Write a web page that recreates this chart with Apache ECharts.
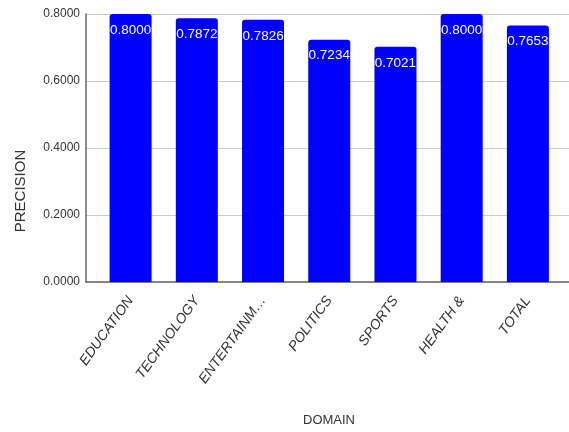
<!DOCTYPE html>
<html><head><meta charset="utf-8">
<script src="https://cdn.jsdelivr.net/npm/echarts@6/dist/echarts.min.js"></script>
<style>html,body{margin:0;padding:0;background:#fff}#c{width:569px;height:432px}</style>
</head><body><div id="c"></div>
<script>
const categories = ['EDUCATION','TECHNOLOGY','ENTERTAINM…','POLITICS','SPORTS','HEALTH &','TOTAL'];
const precision = [0.8000, 0.7872, 0.7826, 0.7234, 0.7021, 0.8000, 0.7653];
const yTicks = [0, 0.2, 0.4, 0.6, 0.8];
const yAxisTitle = 'PRECISION';
const xAxisTitle = 'DOMAIN';

const FONT = '"Liberation Sans", Arial, sans-serif';
const chart = echarts.init(document.getElementById('c'));
chart.setOption({
  animation: false,
  textStyle: {fontFamily: FONT},
  grid: [
    {left: 86, right: 0, top: 14, bottom: 150},
    {left: 97.5, right: 8, top: 14, bottom: 150}
  ],
  xAxis: [
    {gridIndex: 0, type: 'value', min: 0, max: 1,
     axisLine: {show: true, lineStyle: {color: '#666', width: 1.5}},
     axisTick: {show: false}, axisLabel: {show: false}, splitLine: {show: false}},
    {gridIndex: 1, type: 'category', data: categories,
     axisLine: {show: false}, axisTick: {show: false},
     axisLabel: {rotate: 54, margin: 16, fontFamily: FONT, fontStyle: 'italic',
                 fontSize: 14, color: '#333', interval: 0, padding: [0, 0, 0, 0]}}
  ],
  yAxis: [
    {gridIndex: 0, type: 'value', min: yTicks[0], max: yTicks[yTicks.length-1], interval: 0.2,
     axisLine: {show: true, lineStyle: {color: '#666', width: 1.5}},
     axisTick: {show: false},
     axisLabel: {formatter: v => v.toFixed(4), fontFamily: FONT, fontSize: 12, color: '#333', margin: 6},
     splitLine: {lineStyle: {color: '#ccc'}}},
    {gridIndex: 1, type: 'value', min: yTicks[0], max: yTicks[yTicks.length-1],
     show: false, splitLine: {show: false}}
  ],
  graphic: [
    {type: 'text', x: 21, y: 191, rotation: Math.PI/2,
     style: {text: yAxisTitle, font: '15px "Liberation Sans", Arial', fill: '#333',
             textAlign: 'center', textVerticalAlign: 'middle'}},
    {type: 'text', x: 329, y: 420,
     style: {text: xAxisTitle, font: '13px "Liberation Sans", Arial', fill: '#333',
             textAlign: 'center', textVerticalAlign: 'middle'}}
  ],
  series: [{
    type: 'bar', xAxisIndex: 1, yAxisIndex: 1, data: precision, barWidth: 42,
    itemStyle: {color: '#0000ff', borderRadius: [3,3,0,0]},
    label: {show: true, position: 'insideTop', distance: 9, color: '#fff',
            fontFamily: FONT, fontSize: 13.5,
            formatter: p => p.value.toFixed(4)}
  }]
});
</script></body></html>
